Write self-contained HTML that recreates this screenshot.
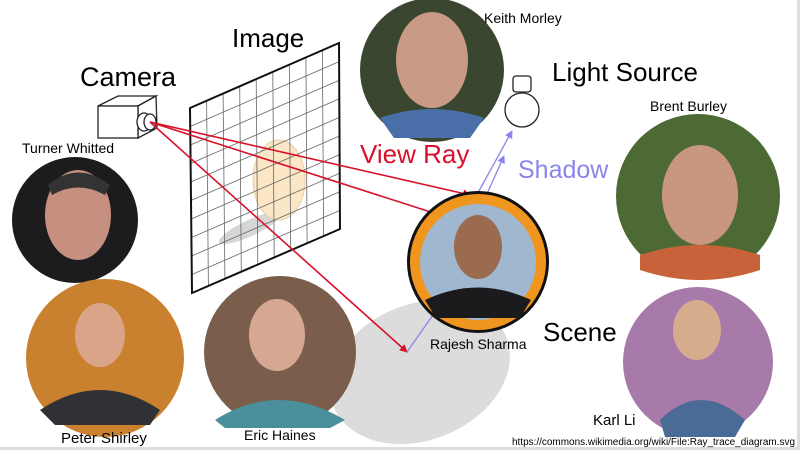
<!DOCTYPE html>
<html><head><meta charset="utf-8"><style>
html,body{margin:0;padding:0;background:#fff;}
svg{display:block;font-family:"Liberation Sans",Arial,sans-serif;}
</style></head><body>
<svg width="800" height="450" viewBox="0 0 800 450" xmlns="http://www.w3.org/2000/svg">
<defs>
<marker id="ar" markerWidth="8" markerHeight="8" refX="7" refY="4" orient="auto" markerUnits="userSpaceOnUse"><path d="M0,0 L8,4 L0,8 z" fill="#d8102a"/></marker>
<marker id="ab" markerWidth="8" markerHeight="8" refX="7" refY="4" orient="auto" markerUnits="userSpaceOnUse"><path d="M0,0 L8,4 L0,8 z" fill="#8a85e8"/></marker>
</defs>
<rect width="800" height="450" fill="#fff"/>
<rect x="797" y="0" width="3" height="450" fill="#ddd"/>
<rect x="0" y="447" width="800" height="3" fill="#ddd"/>
<ellipse cx="420" cy="372" rx="93" ry="68" transform="rotate(-22 420 372)" fill="#dcdcdc"/>
<ellipse cx="250" cy="228" rx="34" ry="8" transform="rotate(-25 250 228)" fill="#d6d6d6"/>
<ellipse cx="279" cy="180" rx="26" ry="40" fill="#fbe6c6" stroke="#e8cfa8"/>
<g stroke="#666" stroke-width="0.8" fill="none">
<path d="M206.6,100.8 L208.4,285.9 M223.1,93.6 L224.9,278.8 M239.7,86.3 L241.3,271.7 M256.2,79.1 L257.8,264.6 M272.8,71.9 L274.2,257.4 M289.3,64.7 L290.7,250.2 M305.9,57.4 L307.1,243.1 M322.4,50.2 L323.6,236"/>
<path d="M190.2,126.5 L339.1,61.6 M190.4,145 L339.2,80.2 M190.6,163.5 L339.3,98.8 M190.8,182 L339.4,117.4 M191,200.5 L339.5,136 M191.2,219 L339.6,154.6 M191.4,237.5 L339.7,173.2 M191.6,256 L339.8,191.8 M191.8,274.5 L339.9,210.4"/>
</g>
<path d="M190,108 L339,43 L340,229 L192,293 Z" fill="none" stroke="#111" stroke-width="2"/>
<g stroke="#222" stroke-width="1.3" fill="#fff">
<path d="M98,106 L118,96 L156,96 L138,106 Z"/>
<path d="M138,106 L156,96 L157,128 L138,138 Z"/>
<rect x="98" y="106" width="40" height="32"/>
<ellipse cx="144" cy="122" rx="7" ry="9"/>
<ellipse cx="150" cy="122" rx="6" ry="8"/>
</g>
<g stroke="#222" stroke-width="1.3" fill="#fff">
<rect x="513" y="76" width="18" height="16" rx="3"/>
<circle cx="522" cy="110" r="17"/>
</g>
<g stroke="#d8102a" stroke-width="1.6" fill="none">
<line x1="150" y1="122" x2="470" y2="195" marker-end="url(#ar)"/>
<line x1="150" y1="122" x2="440" y2="215" marker-end="url(#ar)"/>
<line x1="150" y1="122" x2="407" y2="352" marker-end="url(#ar)"/>
</g>
<g stroke="#8a85e8" stroke-width="1.3" fill="none">
<line x1="474" y1="200" x2="512" y2="131" marker-end="url(#ab)"/>
<line x1="482" y1="205" x2="504" y2="156" marker-end="url(#ab)"/>
<line x1="407" y1="352" x2="440" y2="305"/>
</g>
<circle cx="432" cy="70" r="72" fill="#3a4630"/><ellipse cx="432" cy="60" rx="36" ry="48" fill="#c99a86"/><path d="M380,118 Q432,100 484,118 L470,138 L394,138Z" fill="#4a6fa8"/>
<circle cx="698" cy="196" r="82" fill="#4d6a35"/><ellipse cx="700" cy="195" rx="38" ry="50" fill="#c99680"/><path d="M640,255 Q700,235 760,255 L760,270 Q700,290 640,270Z" fill="#c8623a"/>
<circle cx="75" cy="220" r="63" fill="#1c1c1e"/><ellipse cx="78" cy="215" rx="33" ry="45" fill="#c78f80"/><path d="M48,185 Q78,160 110,185 L105,195 Q78,180 52,195Z" fill="#333"/>
<circle cx="105" cy="358" r="79" fill="#c9812f"/><ellipse cx="100" cy="335" rx="25" ry="32" fill="#d9a488"/><path d="M40,410 Q100,370 160,410 L150,425 L55,425Z" fill="#2f3135"/>
<circle cx="280" cy="352" r="76" fill="#7b5d4c"/><ellipse cx="277" cy="335" rx="28" ry="36" fill="#d6a893"/><path d="M215,420 Q278,380 345,420 L330,428 L225,428Z" fill="#4b8f9c"/>
<circle cx="698" cy="362" r="75" fill="#a87aa9"/><ellipse cx="697" cy="330" rx="24" ry="30" fill="#d6ad8c"/><path d="M660,420 Q700,380 745,420 L735,437 L665,437Z" fill="#4a6b95"/>
<circle cx="478" cy="262" r="71" fill="#111"/>
<circle cx="478" cy="262" r="68" fill="#f0961e"/>
<circle cx="478" cy="262" r="58" fill="#9fb8cf"/>
<ellipse cx="478" cy="247" rx="24" ry="32" fill="#9b6b50"/>
<path d="M425,300 Q478,275 531,300 L520,318 L436,318Z" fill="#1b1b1d"/>
<text x="232" y="47" font-size="26">Image</text>
<text x="80" y="86" font-size="27">Camera</text>
<text x="552" y="81" font-size="26">Light Source</text>
<text x="360" y="163" font-size="26" fill="#d8102a">View Ray</text>
<text x="518" y="178" font-size="25" fill="#8a85e8">Shadow</text>
<text x="543" y="341" font-size="26">Scene</text>
<text x="484" y="23" font-size="14">Keith Morley</text>
<text x="650" y="111" font-size="14">Brent Burley</text>
<text x="22" y="153" font-size="14">Turner Whitted</text>
<text x="430" y="349" font-size="14">Rajesh Sharma</text>
<text x="61" y="443" font-size="15">Peter Shirley</text>
<text x="244" y="440" font-size="14">Eric Haines</text>
<text x="593" y="425" font-size="15">Karl Li</text>
<text x="512" y="445" font-size="10" textLength="283" lengthAdjust="spacingAndGlyphs">https://commons.wikimedia.org/wiki/File:Ray_trace_diagram.svg</text>
</svg>
</body></html>
